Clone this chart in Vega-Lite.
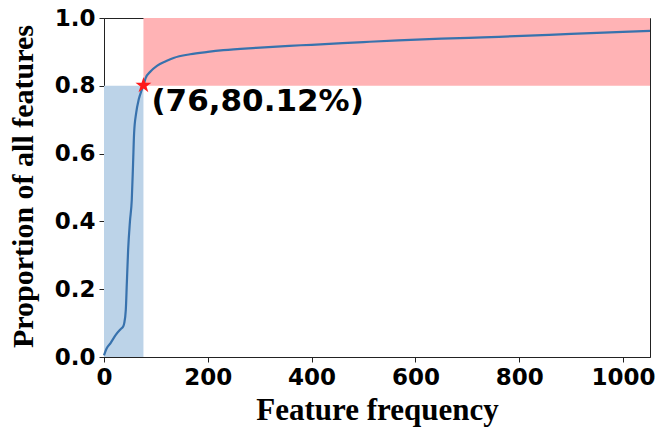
{
  "$schema": "https://vega.github.io/schema/vega-lite/v6.json",
  "width": 546,
  "height": 339,
  "autosize": "none",
  "padding": {"left": 104, "top": 18, "right": 9, "bottom": 75},
  "background": "white",
  "config": {
    "view": {"stroke": "#222", "strokeWidth": 1},
    "axis": {
      "grid": false,
      "domainColor": "#222",
      "tickColor": "#222",
      "tickSize": 5,
      "labelFont": "DejaVu Sans",
      "labelFontWeight": "bold",
      "labelFontSize": 23,
      "labelColor": "black",
      "labelFlush": false,
      "titleFont": "Liberation Serif",
      "titleFontWeight": "bold",
      "titleFontSize": 30,
      "titleColor": "black"
    }
  },
  "datasets": {
    "curve": [
      {"freq": 0, "prop": 0.005},
      {"freq": 5, "prop": 0.025},
      {"freq": 13, "prop": 0.042},
      {"freq": 23, "prop": 0.066},
      {"freq": 32, "prop": 0.082},
      {"freq": 37, "prop": 0.09},
      {"freq": 39, "prop": 0.1},
      {"freq": 42, "prop": 0.139},
      {"freq": 44, "prop": 0.218},
      {"freq": 46.5, "prop": 0.316},
      {"freq": 50, "prop": 0.4},
      {"freq": 53.5, "prop": 0.463},
      {"freq": 56, "prop": 0.57},
      {"freq": 58, "prop": 0.66},
      {"freq": 62, "prop": 0.72},
      {"freq": 67, "prop": 0.76},
      {"freq": 72, "prop": 0.785},
      {"freq": 76, "prop": 0.8012},
      {"freq": 80, "prop": 0.822},
      {"freq": 90, "prop": 0.843},
      {"freq": 102, "prop": 0.859},
      {"freq": 120, "prop": 0.873},
      {"freq": 134, "prop": 0.882},
      {"freq": 166, "prop": 0.893},
      {"freq": 200, "prop": 0.9},
      {"freq": 230, "prop": 0.905},
      {"freq": 293, "prop": 0.912},
      {"freq": 357, "prop": 0.918},
      {"freq": 400, "prop": 0.921},
      {"freq": 500, "prop": 0.929},
      {"freq": 567, "prop": 0.934},
      {"freq": 650, "prop": 0.939},
      {"freq": 730, "prop": 0.943},
      {"freq": 806, "prop": 0.947},
      {"freq": 900, "prop": 0.953},
      {"freq": 1000, "prop": 0.959},
      {"freq": 1052, "prop": 0.962}
    ],
    "rects": [
      {"x0": 0, "x1": 76, "y0": 0, "y1": 0.8, "region": "low"},
      {"x0": 76, "x1": 1052, "y0": 0.8, "y1": 1.0, "region": "high"}
    ],
    "marker": [
      {"freq": 76, "prop": 0.8012, "label": "(76,80.12%)"}
    ]
  },
  "layer": [
    {
      "data": {"name": "rects"},
      "mark": {"type": "rect", "opacity": 1},
      "encoding": {
        "x": {"field": "x0", "type": "quantitative", "scale": {"domain": [0, 1052], "nice": false, "zero": false},
              "axis": {"title": "Feature frequency", "titleFontSize": 31, "values": [0, 200, 400, 600, 800, 1000], "format": "d", "labelPadding": 4, "titlePadding": 6}},
        "x2": {"field": "x1"},
        "y": {"field": "y0", "type": "quantitative", "scale": {"domain": [0, 1], "nice": false},
              "axis": {"title": "Proportion of all features", "values": [0, 0.2, 0.4, 0.6, 0.8, 1.0], "format": ".1f", "labelPadding": 4, "titleX": -66, "titleY": 168, "titleBaseline": "bottom", "titleAlign": "center", "titleAngle": 270}},
        "y2": {"field": "y1"},
        "color": {"field": "region", "type": "nominal", "scale": {"domain": ["low", "high"], "range": ["#bcd3e8", "#ffb3b5"]}, "legend": null}
      }
    },
    {
      "data": {"name": "curve"},
      "mark": {"type": "line", "color": "#3872ad", "strokeWidth": 2.2, "interpolate": "monotone"},
      "encoding": {
        "x": {"field": "freq", "type": "quantitative"},
        "y": {"field": "prop", "type": "quantitative"}
      }
    },
    {
      "data": {"name": "marker"},
      "mark": {"type": "point", "filled": true, "color": "#ff1a1a", "opacity": 1, "size": 280,
               "shape": "M0,-1L0.2245,-0.309L0.951,-0.309L0.363,0.118L0.588,0.809L0,0.382L-0.588,0.809L-0.363,0.118L-0.951,-0.309L-0.2245,-0.309Z"},
      "encoding": {
        "x": {"field": "freq", "type": "quantitative"},
        "y": {"field": "prop", "type": "quantitative"}
      }
    },
    {
      "data": {"name": "marker"},
      "mark": {"type": "text", "font": "DejaVu Sans", "fontWeight": "bold", "fontSize": 31, "align": "left", "baseline": "middle", "dx": 8, "dy": 17, "color": "black"},
      "encoding": {
        "x": {"field": "freq", "type": "quantitative"},
        "y": {"field": "prop", "type": "quantitative"},
        "text": {"field": "label"}
      }
    }
  ]
}
